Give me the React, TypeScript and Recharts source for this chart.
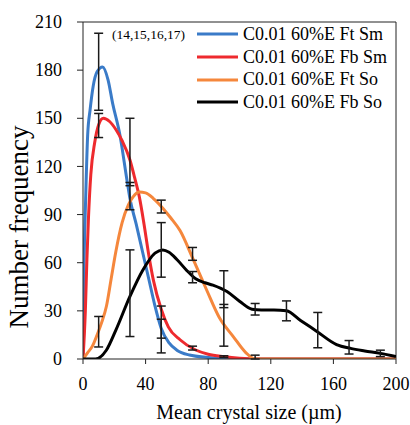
import React from 'react'
import {
  ComposedChart,
  Line,
  Scatter,
  ErrorBar,
  XAxis,
  YAxis,
  ReferenceLine,
  Legend,
} from 'recharts'

const FONT = 'Liberation Serif'

// fitted size distributions: [mean crystal size µm, number frequency]
const ftSmCurve = [
  [0, 0], [0.7, 60], [1.7, 100], [3, 140], [4.5, 155], [6.5, 170], [9, 179], [12.5, 182],
  [16, 174], [19, 159], [23.5, 140], [28, 112], [30, 100], [34, 84], [38, 67], [42, 50],
  [46, 33], [50, 19], [55, 10], [60, 5.5], [68, 2.5], [80, 1], [100, 0], [200, 0],
]
const fbSmCurve = [
  [0, 0], [1.5, 30], [2.5, 62], [3.5, 88], [5, 115], [7.5, 135], [10, 146], [13, 150],
  [17, 148], [21, 143], [25, 136], [30, 124], [33, 113], [36, 101], [39, 84], [42, 65],
  [45, 49], [50, 31], [54.5, 20], [62, 12], [72, 5.6], [80, 3], [90, 1.5], [100, 0.5],
  [110, 0], [200, 0],
]
const ftSoCurve = [
  [0, 0], [3, 4], [6, 8], [9, 15], [12, 23], [15, 33], [18, 50], [21, 67], [25, 85],
  [29, 96], [32, 101], [36, 104], [40, 103.5], [45, 100], [51, 94], [56, 88], [62, 80],
  [70, 63], [79, 43], [87, 26], [96, 14], [104, 4], [110, 0], [200, 0],
]
const fbSoCurve = [
  [0, 0], [8, 0], [15, 5.6], [21, 18], [30, 39], [38, 55], [46, 66], [51, 68], [55, 66.5],
  [60, 62], [66, 55.5], [72, 50], [78, 47.5], [83, 46], [92, 42], [100, 36], [108, 31],
  [114, 30.5], [122, 30.5], [130, 30], [139, 24], [149, 17.5], [162, 9], [171, 6.6],
  [180, 5], [190, 3.5], [200, 1.5],
]

// measured bins: [size, mean, ± error]
const ftSmBars = [[10, 179, 24], [30, 101.5, 8.5], [50, 14.3, 10.5], [70, 6.8, 1.2], [90, 1.5, 0.5]]
const fbSmBars = [[10, 145.5, 7.5], [30, 129, 21], [50, 23, 10]]
const ftSoBars = [[10, 17, 9.5], [50, 95, 4], [70, 65.5, 4], [90, 21, 13], [110, 1.2, 1.2]]
const fbSoBars = [
  [30, 41, 27], [50, 68, 17], [70, 51, 3.5], [90, 43.5, 11.5], [110, 31, 3.6],
  [130, 30, 6.2], [150, 18, 11], [170, 7.3, 4.2], [190, 3.5, 2],
]

const seriesNames = ['C0.01 60%E Ft Sm', 'C0.01 60%E Fb Sm', 'C0.01 60%E Ft So', 'C0.01 60%E Fb So']
const seriesColors = ['#3a7bc8', '#ee2a2e', '#f5873c', '#000000']
const xTicks = [0, 40, 80, 120, 160, 200]
const yTicks = [0, 30, 60, 90, 120, 150, 180, 210]

const curves = [ftSmCurve, fbSmCurve, ftSoCurve, fbSoCurve].map((c) =>
  c.map(([size, count]) => ({ size, count }))
)
const bars = [ftSmBars, fbSmBars, ftSoBars, fbSoBars].map((b) =>
  b.map(([size, mean, err]) => ({ size, mean, err }))
)

function LegendBox() {
  return (
    <div style={{ fontFamily: FONT, fontSize: 18, color: '#000' }}>
      {seriesNames.map((name, i) => (
        <div key={name} style={{ display: 'flex', alignItems: 'center', height: 22.7 }}>
          <svg width={41} height={6} style={{ marginRight: 5, flexShrink: 0 }}>
            <line x1={0} y1={3} x2={41} y2={3} stroke={seriesColors[i]} strokeWidth={3} />
          </svg>
          <span style={{ whiteSpace: 'nowrap', lineHeight: '22.7px' }}>{name}</span>
        </div>
      ))}
    </div>
  )
}

// custom tick so the serif face is set on the <text> itself
function Tick({ x, y, payload, textAnchor, dy }: any) {
  return (
    <text x={x} y={y} dy={dy} textAnchor={textAnchor} fontFamily={FONT} fontSize={18} fill="#000">
      {payload.value}
    </text>
  )
}

export default function App() {
  return (
    <div
      style={{
        position: 'absolute',
        left: 0,
        top: 0,
        width: 410,
        height: 425,
        background: '#fff',
        fontFamily: FONT,
      }}
    >
      <ComposedChart width={410} height={425} margin={{ top: 22, right: 14, left: 0, bottom: 0 }}>
        <XAxis
          dataKey="size"
          type="number"
          domain={[0, 200]}
          ticks={xTicks}
          allowDataOverflow
          height={66}
          tickSize={5}
          tickMargin={13}
          tick={(p: any) => <Tick {...p} textAnchor="middle" dy={12.8} />}
          stroke="#222"
          label={() => (
            <text x={249} y={419} textAnchor="middle" fontFamily={FONT} fontSize={20} fill="#000">
              Mean crystal size (µm)
            </text>
          )}
        />
        <YAxis
          type="number"
          domain={[0, 210]}
          ticks={yTicks}
          allowDataOverflow
          width={83}
          tickSize={6}
          tickMargin={15}
          tick={(p: any) => <Tick {...p} textAnchor="end" dy={6.2} />}
          stroke="#222"
          label={() => (
            <text
              x={28}
              y={227}
              transform="rotate(-90 28 227)"
              textAnchor="middle"
              fontFamily={FONT}
              fontSize={27}
              fill="#000"
            >
              Number frequency
            </text>
          )}
        />
        <ReferenceLine y={210} stroke="#222" strokeWidth={1} />
        <ReferenceLine x={200} stroke="#222" strokeWidth={1} />
        {curves.map((data, i) => (
          <Line
            key={seriesNames[i]}
            data={data}
            dataKey="count"
            name={seriesNames[i]}
            type="monotone"
            stroke={seriesColors[i]}
            strokeWidth={3}
            dot={false}
            activeDot={false}
            isAnimationActive={false}
          />
        ))}
        {bars.map((data, i) => (
          <Scatter
            key={'bars' + i}
            data={data}
            dataKey="mean"
            shape={() => <g />}
            legendType="none"
            isAnimationActive={false}
          >
            <ErrorBar dataKey="err" direction="y" width={4.5} stroke="#1a1a1a" strokeWidth={1.5} />
          </Scatter>
        ))}
        <Legend
          content={() => <LegendBox />}
          layout="vertical"
          align="center"
          verticalAlign="middle"
          wrapperStyle={{ left: 197, top: 23, width: 210 }}
        />
      </ComposedChart>
      <div
        style={{
          position: 'absolute',
          left: 112,
          top: 27,
          fontFamily: FONT,
          fontSize: 13.5,
          color: '#000',
          whiteSpace: 'nowrap',
        }}
      >
        (14,15,16,17)
      </div>
    </div>
  )
}
